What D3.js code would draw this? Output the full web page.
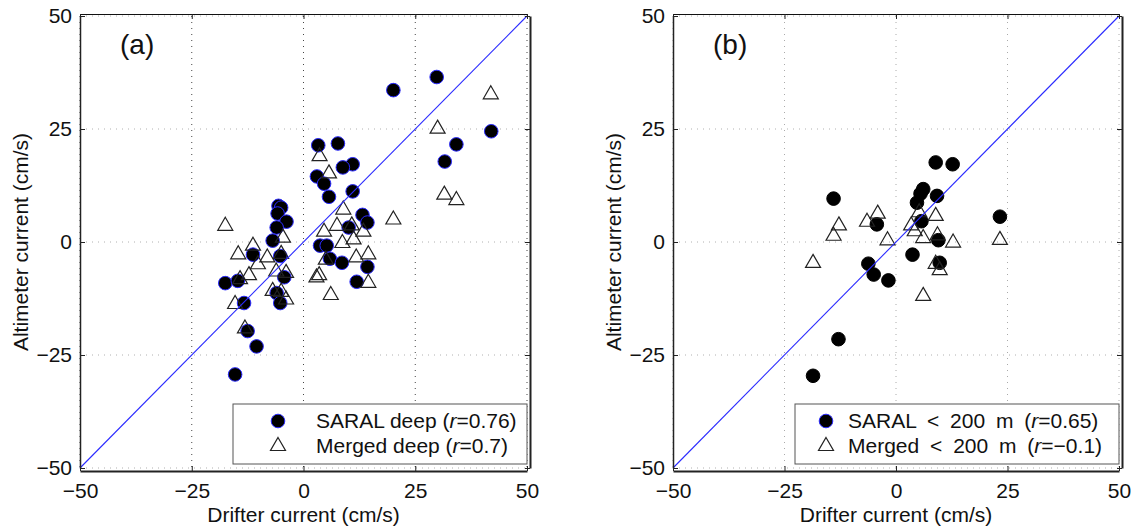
<!DOCTYPE html>
<html>
<head>
<meta charset="utf-8">
<script src="https://cdn.jsdelivr.net/npm/d3@7"></script>
<style>
  body { margin: 0; background: #fff; }
  svg text { font-family: "Liberation Sans", Arial, Helvetica, sans-serif; fill: #111; }
</style>
</head>
<body>
<div id="chart"></div>
<script>
// tick values, same on both axes of both panels
var ticks = [-50, -25, 0, 25, 50];

// panel (a): SARAL deep (circles)
var saralDeepX = [20.1, 29.8, 42.0, 34.2, 31.6, 3.3, 7.7, 11.0, 8.8, 3.0, 4.6, 5.7, 11.0, 13.2, 14.3, 10.1,
                  3.7, 5.2, 5.9, 8.6, 14.3, 11.9,
                  -5.6, -5.0, -5.8, -3.8, -6.0, -6.9, -11.3, -5.2, -4.3, -17.5, -14.7, -6.0, -5.2, -13.3, -12.5, -10.5, -15.3];
var saralDeepY = [33.6, 36.5, 24.5, 21.6, 17.8, 21.4, 21.8, 17.2, 16.5, 14.5, 12.9, 10.0, 11.2, 6.0, 4.3, 3.2,
                  -0.8, -0.8, -3.7, -4.6, -5.5, -8.8,
                  8.0, 7.6, 6.3, 4.5, 3.2, 0.3, -2.8, -3.1, -7.8, -9.1, -8.6, -11.3, -13.5, -13.5, -19.7, -23.1, -29.3];

// panel (a): Merged deep (triangles)
var mergedDeepX = [41.9, 30.0, 31.5, 34.2, 20.1, 3.6, 5.7, 8.9, 7.5, 10.8, 4.6, 13.4, 11.2, 8.7, 11.8, 14.5, 5.0, 2.9, 3.5, 14.5, 6.1,
                   -17.5, -11.3, -14.6, -8.1, -10.2, -12.2, -14.2, -4.6, -5.0, -6.1, -3.9, -6.9, -5.0, -3.9, -15.3, -13.1];
var mergedDeepY = [32.9, 25.3, 10.7, 9.5, 5.2, 19.2, 15.4, 7.4, 3.8, 3.9, 2.5, 2.5, 0.8, 0.0, -3.2, -2.5, -3.7, -7.6, -7.1, -8.8, -11.5,
                   3.8, -0.6, -2.5, -3.2, -4.7, -7.1, -8.0, 1.2, -2.4, -6.3, -6.6, -10.6, -10.8, -12.5, -13.5, -18.9];

// panel (b): SARAL < 200 m (circles)
var saralShelfX = [8.9, 12.7, -14.0, 6.1, 5.5, 9.2, 4.7, 23.3, -4.3, 5.7, 9.5, 3.7, -6.2, 9.8, -5.0, -1.7, -12.9, -18.6];
var saralShelfY = [17.6, 17.2, 9.6, 11.7, 10.7, 10.2, 8.7, 5.6, 3.9, 4.6, 0.4, -2.8, -4.8, -4.6, -7.2, -8.5, -21.5, -29.6];

// panel (b): Merged < 200 m (triangles)
var mergedShelfX = [-4.1, -6.5, -12.8, -14.0, -1.9, -18.6, 5.2, 8.9, 3.4, 4.2, 6.1, 9.3, 12.8, 23.3, 8.9, 9.8, 6.1];
var mergedShelfY = [6.5, 4.7, 3.9, 1.6, 0.6, -4.4, 6.8, 6.0, 3.9, 2.6, 1.1, 1.7, 0.1, 0.7, -4.6, -6.0, -11.7];

var legendA = [["SARAL deep (", "0.76)"], ["Merged deep (", "0.7)"]];
var legendB = [["SARAL < 200 m (", "0.65)"], ["Merged < 200 m (", "\u22120.1)"]];

var W = 1140, H = 529;
var svg = d3.select("#chart").append("svg")
    .attr("width", W)
    .attr("height", H);

var triPath = "M0,-7.5L7.5,5.5L-7.5,5.5Z";

function panel(opt) {
  var x = d3.scaleLinear().domain([-50, 50]).range([opt.left, opt.right]);
  var y = d3.scaleLinear().domain([-50, 50]).range([468, 16]);
  var g = svg.append("g");

  // dotted grid
  g.selectAll(".vgrid").data(ticks).enter().append("line")
    .attr("x1", function(d){ return x(d); }).attr("x2", function(d){ return x(d); })
    .attr("y1", y(50)).attr("y2", y(-50))
    .attr("stroke", opt.vgrid).attr("stroke-width", 1)
    .attr("stroke-dasharray", "1,5");
  g.selectAll(".hgrid").data(ticks).enter().append("line")
    .attr("y1", function(d){ return y(d); }).attr("y2", function(d){ return y(d); })
    .attr("x1", x(-50)).attr("x2", x(50))
    .attr("stroke", "#b0b0b0").attr("stroke-width", 1)
    .attr("stroke-dasharray", "1,5");

  // circles
  var cx = opt.cx, cy = opt.cy;
  g.selectAll(".dot").data(d3.range(cx.length)).enter().append("circle")
    .attr("cx", function(i){ return x(cx[i]); })
    .attr("cy", function(i){ return y(cy[i]); })
    .attr("r", 6.8)
    .attr("fill", "#000")
    .attr("stroke", opt.dotEdge).attr("stroke-width", 1);

  // triangles
  var tx = opt.tx, ty = opt.ty;
  g.selectAll(".tri").data(d3.range(tx.length)).enter().append("path")
    .attr("d", triPath)
    .attr("transform", function(i){ return "translate(" + x(tx[i]) + "," + y(ty[i]) + ")"; })
    .attr("fill", "none")
    .attr("stroke", "#222").attr("stroke-width", 1.2);

  // 1:1 line
  g.append("line")
    .attr("x1", x(-50)).attr("y1", y(-50))
    .attr("x2", x(50)).attr("y2", y(50))
    .attr("stroke", "#2a2aff").attr("stroke-width", 1.1);

  // axes with inward ticks
  g.append("g").attr("transform", "translate(0," + (y(-50) + 3) + ")")
    .call(d3.axisBottom(x).tickValues(ticks).tickSizeInner(-5).tickSizeOuter(0).tickPadding(12))
    .call(function(a){ a.select(".domain").attr("stroke", "#222").attr("stroke-width", 2); });
  g.append("g").attr("transform", "translate(" + (x(-50)) + ",0)")
    .call(d3.axisLeft(y).tickValues(ticks).tickSizeInner(-5).tickSizeOuter(0).tickPadding(8))
    .call(function(a){ a.select(".domain").attr("stroke", "#222").attr("stroke-width", 1.5); });
  g.append("g").attr("transform", "translate(0," + (y(50) - 2) + ")")
    .call(d3.axisTop(x).tickValues(ticks).tickSizeInner(-5).tickSizeOuter(0).tickFormat(""))
    .call(function(a){ a.select(".domain").attr("stroke", "#111").attr("stroke-width", 1.2); });
  g.append("g").attr("transform", "translate(" + (x(50) + 3) + ",0)")
    .call(d3.axisRight(y).tickValues(ticks).tickSizeInner(-5).tickSizeOuter(0).tickFormat(""))
    .call(function(a){ a.select(".domain").attr("stroke", "#222").attr("stroke-width", 2); });
  g.selectAll(".tick text").style("font-size", "21px")
    .style("font-family", "'Liberation Sans', Arial, sans-serif").attr("fill", "#111");
  g.selectAll(".tick line").attr("stroke", "#222");

  // axis labels
  g.append("text")
    .attr("x", (x(-50) + x(50)) / 2).attr("y", 522)
    .attr("text-anchor", "middle").style("font-size", "21px")
    .text("Drifter current (cm/s)");
  g.append("text")
    .attr("transform", "translate(" + (x(-50) - 52) + "," + y(0) + ") rotate(-90)")
    .attr("text-anchor", "middle").style("font-size", "21px")
    .text("Altimeter current (cm/s)");

  // panel tag
  g.append("text")
    .attr("x", x(-50) + 40).attr("y", 54)
    .style("font-size", "28px")
    .text(opt.tag);

  // legend
  var lg = g.append("g");
  lg.append("rect")
    .attr("x", opt.legLeft).attr("y", 404)
    .attr("width", x(50) - opt.legLeft).attr("height", 60)
    .attr("fill", "#fff").attr("stroke", "#555").attr("stroke-width", 1);
  lg.append("circle")
    .attr("cx", opt.legLeft + opt.legMark).attr("cy", 421).attr("r", 6.8)
    .attr("fill", "#000").attr("stroke", "#2a2aff").attr("stroke-width", 1);
  lg.append("path").attr("d", triPath)
    .attr("transform", "translate(" + (opt.legLeft + opt.legMark) + ",445)")
    .attr("fill", "none").attr("stroke", "#222").attr("stroke-width", 1.2);
  opt.legend.forEach(function(l, i) {
    var t = lg.append("text")
      .attr("x", opt.legLeft + opt.legText).attr("y", 428 + i * 25)
      .style("font-size", "21px")
      .style("word-spacing", opt.wordSp + "px");
    t.append("tspan").text(l[0]);
    t.append("tspan").style("font-style", "italic").text("r");
    t.append("tspan").text("=" + l[1]);
  });
}

panel({left: 80, right: 527, cx: saralDeepX, cy: saralDeepY, tx: mergedDeepX, ty: mergedDeepY,
       dotEdge: "#2a2aff", vgrid: "#444", tag: "(a)", legend: legendA,
       legLeft: 233, legMark: 45, legText: 83, wordSp: 0});
panel({left: 673, right: 1119, cx: saralShelfX, cy: saralShelfY, tx: mergedShelfX, ty: mergedShelfY,
       dotEdge: "#000", vgrid: "#aaa", tag: "(b)", legend: legendB,
       legLeft: 795, legMark: 31, legText: 53, wordSp: 5});
</script>
</body>
</html>
